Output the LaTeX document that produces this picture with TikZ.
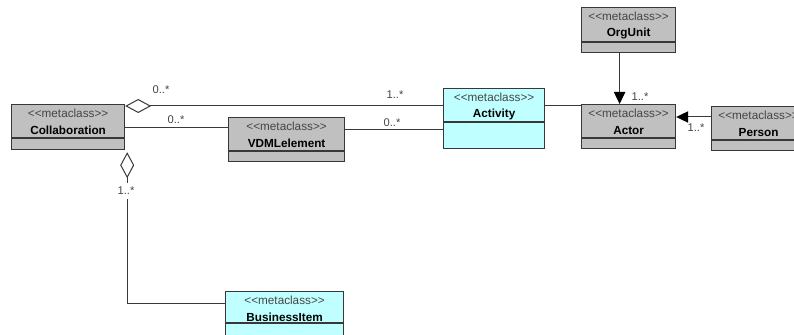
\documentclass[tikz,border=0pt]{standalone}
\usepackage{fontspec}
\setmainfont{Liberation Sans}
\usetikzlibrary{arrows.meta,calc}
\definecolor{clsgray}{HTML}{C0C0C0}
\definecolor{clscyan}{HTML}{C0FFFF}
\definecolor{clsborder}{HTML}{383838}
\definecolor{lnk}{HTML}{3A3A3A}
\definecolor{txtgray}{HTML}{454545}
\newcommand\stereotxt{<\kern0pt<metaclass>\kern0pt>}
% name, x1, y1, x2, y2, fill, divider offset, title
\newcommand\umlcls[8]{%
  \node[clsbox, fill=#6, anchor=north west,
        minimum width={(#4-#2)*0.75pt}, minimum height={(#5-#3)*0.75pt}] (#1) at (#2,#3) {};
  \draw[clsbox] ($(#1.north west)+(0,#7)$) -- ($(#1.north east)+(0,#7)$);
  \node[stereo] (#1-st) at ($(#1.north)+(0,9)$) {\stereotxt};
  \node[clsname] (#1-nm) at ($(#1.north)+(0,26.5)$) {#8};
}
\begin{document}
\begin{tikzpicture}[x=0.75pt,y=-0.75pt,
  clsbox/.style={draw=clsborder, line width=0.9pt, inner sep=0pt},
  stereo/.style={inner sep=0pt, text=txtgray, font=\fontsize{8.8}{10}\selectfont},
  clsname/.style={inner sep=0pt, text=black, font=\fontsize{8.8}{10}\selectfont\bfseries},
  link/.style={draw=lnk, line width=0.75pt},
  mult/.style={inner sep=0.5pt, text=txtgray, font=\fontsize{8.4}{10}\selectfont},
  agg/.style={link, {Diamond[open, length=19.5pt, width=10.5pt, line width=0.75pt]}-},
  gen/.style={link, -{Triangle[length=9pt, width=8.5pt, color=black]}}
]
\useasboundingbox (0,0) rectangle (794,335);
\clip (0,0) rectangle (794,335);
\fill[white] (0,0) rectangle (794,335);

\umlcls{collab}{11}{104}{124}{149}{clsgray}{34}{Collaboration}
\umlcls{vdml}{228}{117}{344}{161}{clsgray}{34}{VDMLelement}
\umlcls{activity}{443}{88}{544}{148}{clscyan}{34}{Activity}
\umlcls{orgunit}{581}{7}{675}{52}{clsgray}{35}{OrgUnit}
\umlcls{actor}{581}{104}{675}{148}{clsgray}{34}{Actor}
\umlcls{person}{711}{106}{805}{150}{clsgray}{34}{Person}
\umlcls{bitem}{225}{291}{343}{351}{clscyan}{32}{BusinessItem}

% Collaboration <>-- Activity
\draw[agg] ([yshift=-1.5pt]collab.north east) -- ([yshift=-13.5pt]activity.north west);
% Collaboration -- VDMLelement
\draw[link] ([yshift=-18pt]collab.north east) -- ([yshift=-8.25pt]vdml.north west);
% VDMLelement -- Activity
\draw[link] ([yshift=-9.75pt]vdml.north east) -- ([yshift=-31.5pt]activity.north west);
% Activity -- Actor
\draw[link] ([yshift=-13.5pt]activity.north east) -- ([yshift=-1.5pt]actor.north west);
% OrgUnit -> Actor
\draw[gen] ([xshift=-6.75pt]orgunit.south) -- ([xshift=-6.75pt]actor.north);
% Person -> Actor
\draw[gen] ([yshift=-8.25pt]person.north west) -- ([yshift=-9.75pt]actor.north east);
% Collaboration <>-- BusinessItem
\draw[agg] ([xshift=1.5pt,yshift=-1.5pt]collab.south east) |- ([yshift=-9pt]bitem.north west);

% multiplicities
\node[mult] (m1) at (161,90) {0..*};
\node[mult] (m2) at (395,95) {1..*};
\node[mult] (m3) at (176,120) {0..*};
\node[mult] (m4) at (392,123) {0..*};
\node[mult] (m5) at (640,97) {1..*};
\node[mult] (m6) at (696,128) {1..*};
\node[mult, fill=white, inner ysep=3pt] (m7) at (126,191) {1..*};
\end{tikzpicture}
\end{document}
